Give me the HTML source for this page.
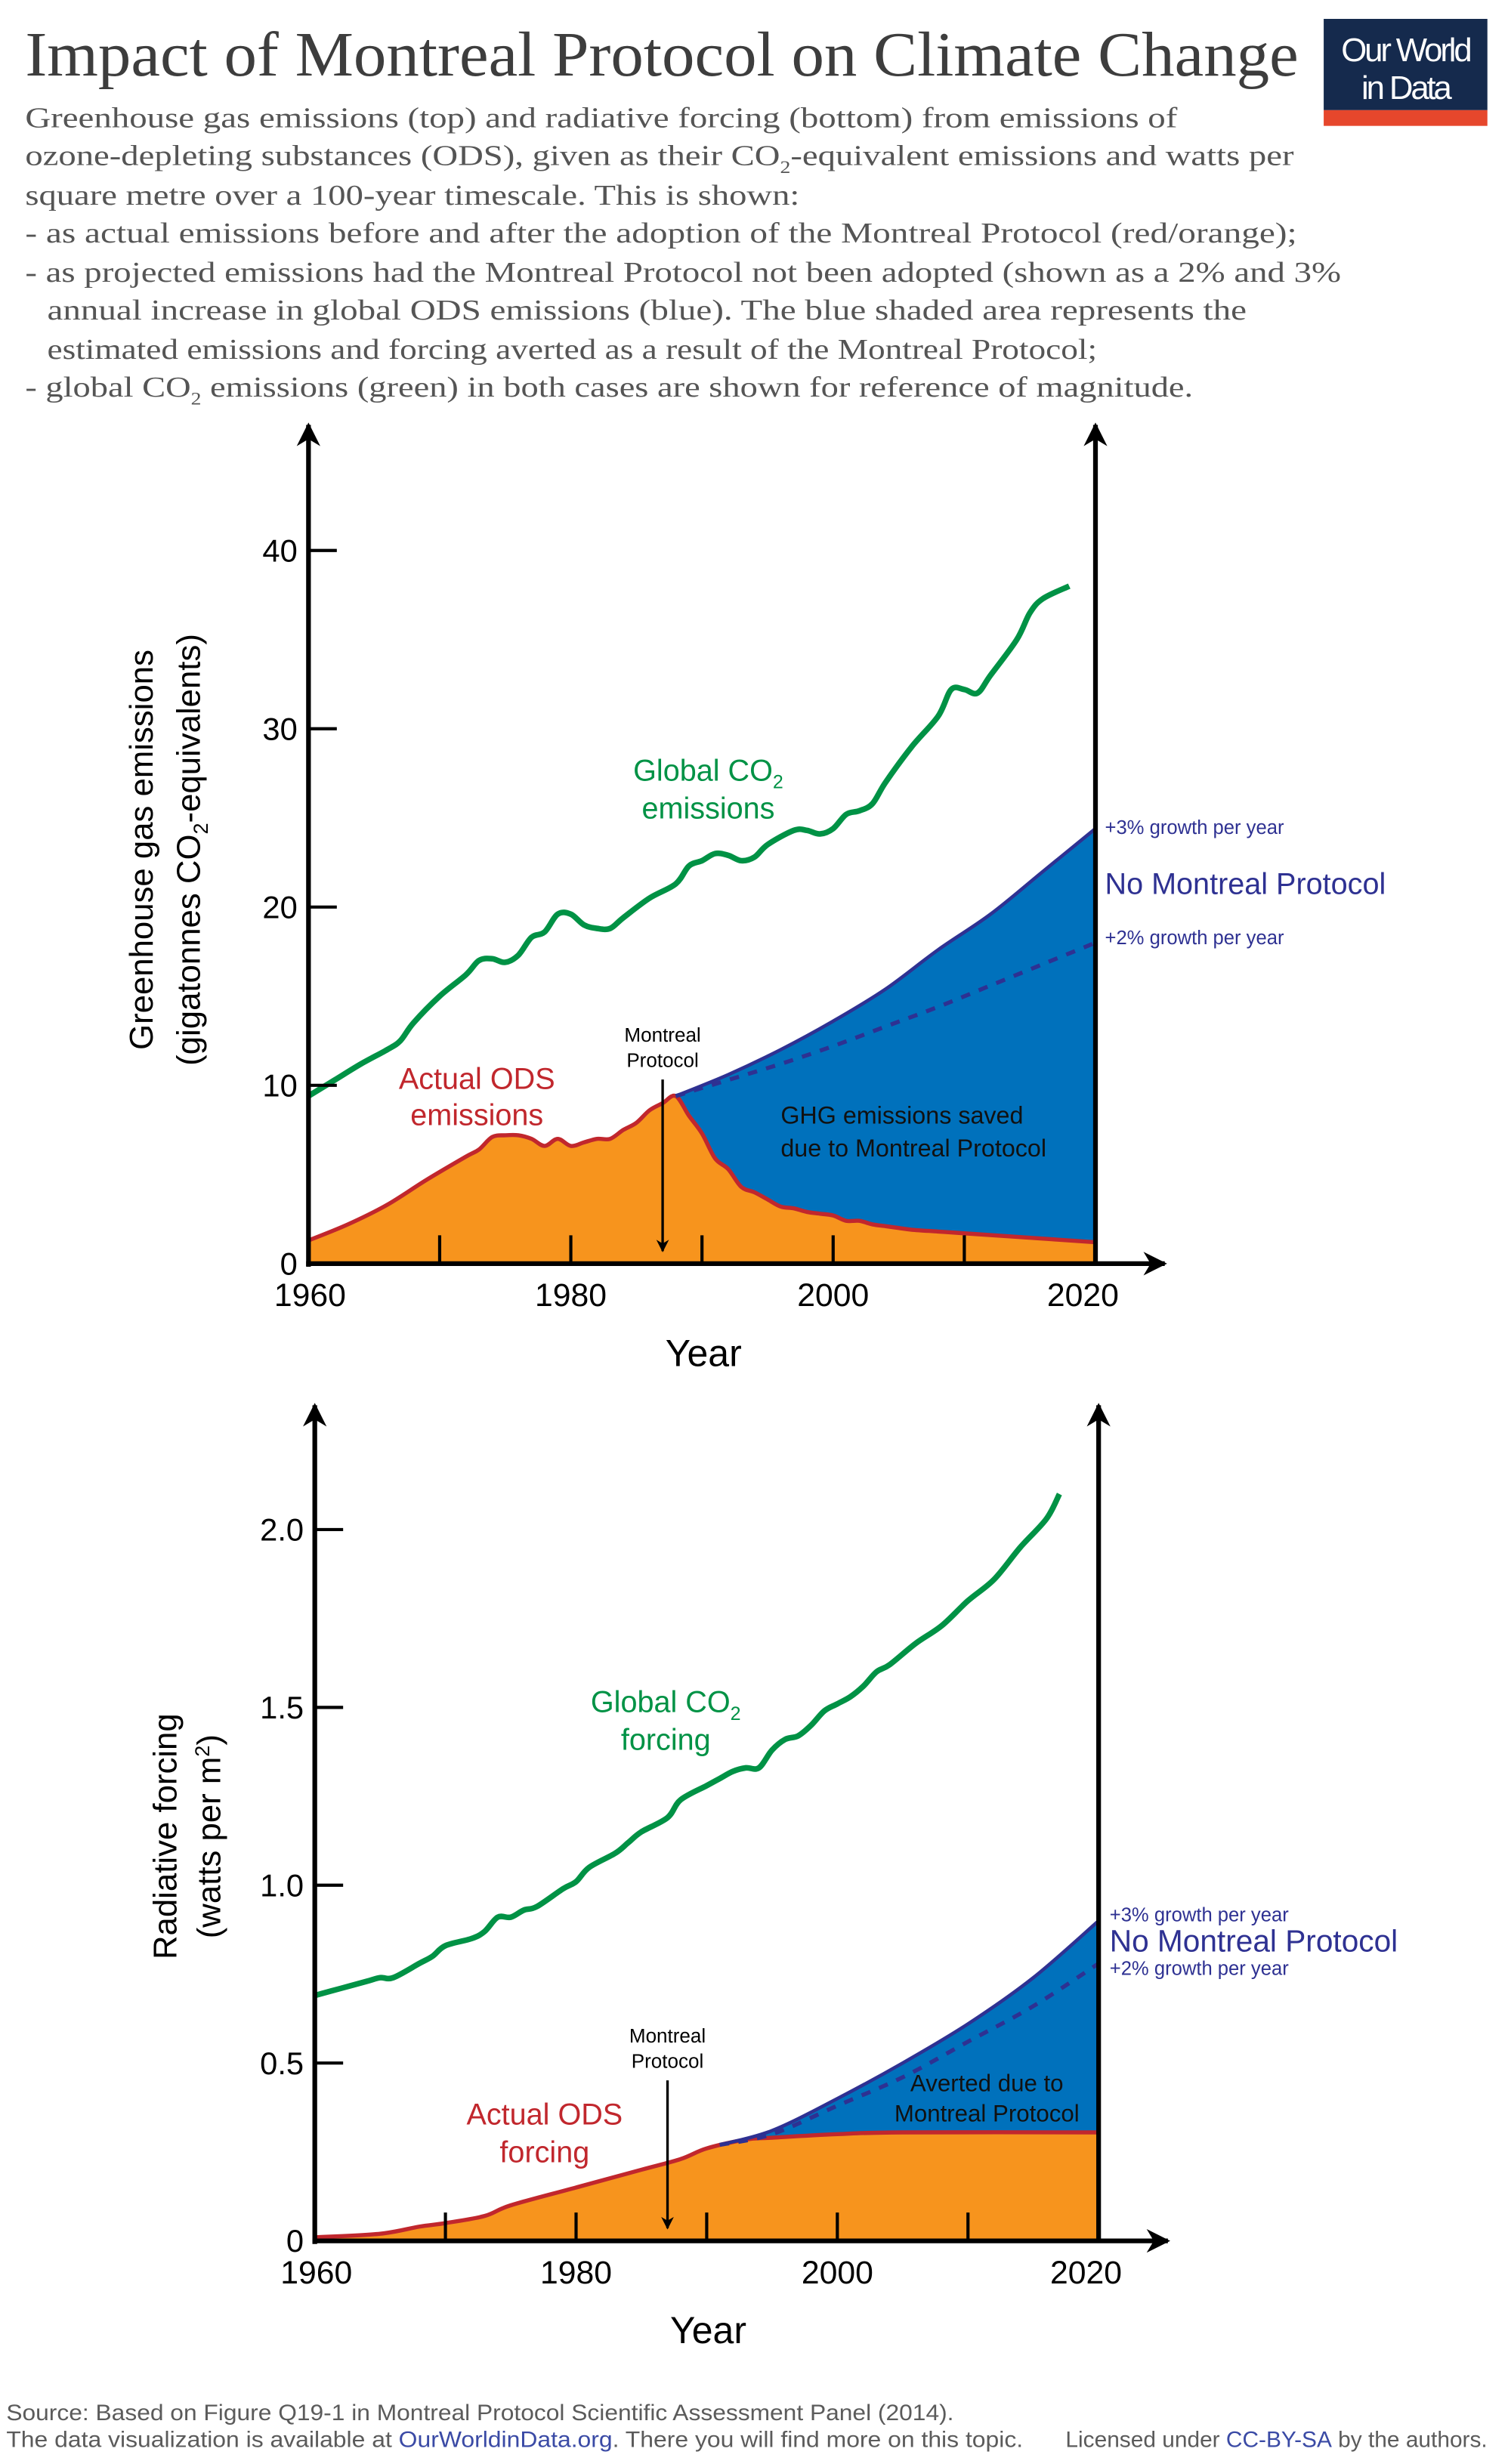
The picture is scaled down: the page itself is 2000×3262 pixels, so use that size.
<!DOCTYPE html>
<html><head><meta charset="utf-8"><title>Impact of Montreal Protocol on Climate Change</title>
<style>
html,body{margin:0;padding:0;background:#fff;}
svg{display:block;}
.sans{font-family:"Liberation Sans",sans-serif;}
.serif{font-family:"Liberation Serif",serif;}
</style></head>
<body>
<svg id="chart" width="2000" height="3262" viewBox="0 0 960 1565.8" preserveAspectRatio="none" xmlns="http://www.w3.org/2000/svg">
<defs>
<marker id="arr" viewBox="0 0 10 10" refX="9" refY="5" markerWidth="5" markerHeight="5" orient="auto"><path d="M0,0 L10,5 L0,10 L3,5 z" fill="#000"/></marker>
</defs>
<text x="16" y="48" class="serif" font-size="40" fill="#3d3d3d" textLength="809" lengthAdjust="spacingAndGlyphs">Impact of Montreal Protocol on Climate Change</text>
<g>
<rect x="841" y="12" width="104" height="58" fill="#152a4d"/>
<rect x="841" y="70" width="104" height="10" fill="#e6472c"/>
<text x="893" y="39" text-anchor="middle" class="sans" font-size="21" fill="#fff" letter-spacing="-1.5">Our World</text>
<text x="893" y="63" text-anchor="middle" class="sans" font-size="21" fill="#fff" letter-spacing="-1.5">in Data</text>
</g>
<g class="serif" font-size="18.5" fill="#555">
<text x="16" y="81" textLength="732" lengthAdjust="spacingAndGlyphs">Greenhouse gas emissions (top) and radiative forcing (bottom) from emissions of</text>
<text x="16" y="105" textLength="806" lengthAdjust="spacingAndGlyphs">ozone-depleting substances (ODS), given as their CO<tspan font-size="11" dy="5">2</tspan><tspan dy="-5">-equivalent emissions and watts per</tspan></text>
<text x="16" y="130" textLength="492" lengthAdjust="spacingAndGlyphs">square metre over a 100-year timescale. This is shown:</text>
<text x="16" y="154" textLength="808" lengthAdjust="spacingAndGlyphs">- as actual emissions before and after the adoption of the Montreal Protocol (red/orange);</text>
<text x="16" y="179" textLength="836" lengthAdjust="spacingAndGlyphs">- as projected emissions had the Montreal Protocol not been adopted (shown as a 2% and 3%</text>
<text x="30" y="203" textLength="762" lengthAdjust="spacingAndGlyphs">annual increase in global ODS emissions (blue). The blue shaded area represents the</text>
<text x="30" y="228" textLength="667" lengthAdjust="spacingAndGlyphs">estimated emissions and forcing averted as a result of the Montreal Protocol;</text>
<text x="16" y="252" textLength="742" lengthAdjust="spacingAndGlyphs">- global CO<tspan font-size="11" dy="5">2</tspan><tspan dy="-5"> emissions (green) in both cases are shown for reference of magnitude.</tspan></text>
</g>
<g id="topPanel"></g>
<g id="botPanel"></g>
<g class="sans" font-size="14" fill="#5b5b5b">
<text x="4" y="1538" textLength="602" lengthAdjust="spacingAndGlyphs">Source: Based on Figure Q19-1 in Montreal Protocol Scientific Assessment Panel (2014).</text>
<text x="4" y="1555" textLength="646" lengthAdjust="spacingAndGlyphs">The data visualization is available at <tspan fill="#3a4aa5">OurWorldinData.org</tspan>. There you will find more on this topic.</text>
<text x="677" y="1555" textLength="268" lengthAdjust="spacingAndGlyphs">Licensed under <tspan fill="#3a4aa5">CC-BY-SA</tspan> by the authors.</text>
</g>
</svg>
<script>
// ---- Top panel data (emissions, GtCO2-eq) ----
const co2EmYears = [1960,1962,1964,1966,1967,1968,1970,1972,1973,1974,1975,1976,1977,1978,1979,1980,1981,1982,1983,1984,1986,1988,1989,1990,1991,1992,1993,1994,1995,1997,1998,1999,2000,2001,2002,2003,2004,2006,2008,2009,2010,2011,2012,2014,2015,2016,2018];
const co2EmValues = [9.4,10.3,11.2,12.0,12.5,13.5,15.0,16.2,17.0,17.1,16.9,17.3,18.3,18.6,19.6,19.6,19.0,18.8,18.8,19.4,20.5,21.3,22.3,22.6,23.0,22.9,22.6,22.8,23.5,24.3,24.3,24.1,24.4,25.2,25.4,25.8,27.0,29.0,30.7,32.2,32.2,32.0,33.0,35.0,36.5,37.3,38.0];
const odsEmYears = [1960,1963,1966,1969,1972,1973,1974,1975,1976,1977,1978,1979,1980,1981,1982,1983,1984,1985,1986,1987,1988,1989,1990,1991,1992,1993,1994,1995,1996,1997,1998,1999,2000,2001,2002,2003,2004,2005,2006,2008,2010,2014,2020];
const odsEmValues = [1.3,2.2,3.3,4.7,6.0,6.4,7.1,7.2,7.2,7.0,6.6,7.0,6.6,6.8,7.0,7.0,7.5,7.9,8.6,9.0,9.4,8.3,7.3,5.9,5.3,4.3,4.0,3.6,3.2,3.1,2.9,2.8,2.7,2.4,2.4,2.2,2.1,2.0,1.9,1.8,1.7,1.5,1.2];
const noMpEmYears = [1988,1992,1996,2000,2004,2008,2012,2016,2020];
const noMp3EmValues = [9.4,10.6,12.0,13.6,15.4,17.6,19.6,22.0,24.4];
const noMp2EmValues = [9.4,10.3,11.2,12.2,13.3,14.4,15.6,16.8,18.0];
const topYTicks = [0,10,20,30,40];
// ---- Bottom panel data (forcing, W/m2) ----
const co2FYears = [1960,1962,1964,1965,1966,1968,1969,1970,1972,1973,1974,1975,1976,1977,1979,1980,1981,1983,1984,1985,1987,1988,1990,1991,1992,1993,1994,1995,1996,1997,1998,1999,2000,2001,2002,2003,2004,2006,2008,2010,2012,2014,2016,2017];
const co2FValues = [0.69,0.71,0.73,0.74,0.74,0.78,0.80,0.83,0.85,0.87,0.91,0.91,0.93,0.94,0.99,1.01,1.05,1.09,1.12,1.15,1.19,1.24,1.28,1.30,1.32,1.33,1.33,1.38,1.41,1.42,1.45,1.49,1.51,1.53,1.56,1.60,1.62,1.68,1.73,1.80,1.86,1.95,2.03,2.10];
const odsFYears = [1960,1965,1968,1970,1973,1975,1980,1985,1988,1990,1993,1995,2000,2005,2020];
const odsFValues = [0.01,0.02,0.04,0.05,0.07,0.10,0.15,0.20,0.23,0.26,0.285,0.29,0.30,0.305,0.305];
const noMpFYears = [1991,1995,2000,2005,2010,2015,2020];
const noMp3FValues = [0.27,0.31,0.40,0.50,0.61,0.74,0.90];
const noMp2FValues = [0.27,0.30,0.38,0.46,0.56,0.66,0.78];
const botYTicks = [0,0.5,1.0,1.5,2.0];
const botYTickLabels = ["0","0.5","1.0","1.5","2.0"];
const xTickYears = [1960,1970,1980,1990,2000,2010,2020];
const xLabelYears = [1960,1980,2000,2020];

const NS = "http://www.w3.org/2000/svg";
function el(parent, tag, attrs, text){
  const e = document.createElementNS(NS, tag);
  for (const k in attrs) e.setAttribute(k, attrs[k]);
  if (text !== undefined) e.textContent = text;
  parent.appendChild(e);
  return e;
}
function smooth(pts){
  let d = "M" + pts[0][0].toFixed(2) + "," + pts[0][1].toFixed(2);
  for (let i=0;i<pts.length-1;i++){
    const p0 = pts[Math.max(0,i-1)], p1 = pts[i], p2 = pts[i+1], p3 = pts[Math.min(pts.length-1,i+2)];
    const c1x = p1[0]+(p2[0]-p0[0])/6, c1y = p1[1]+(p2[1]-p0[1])/6;
    const c2x = p2[0]-(p3[0]-p1[0])/6, c2y = p2[1]-(p3[1]-p1[1])/6;
    d += " C"+c1x.toFixed(2)+","+c1y.toFixed(2)+" "+c2x.toFixed(2)+","+c2y.toFixed(2)+" "+p2[0].toFixed(2)+","+p2[1].toFixed(2);
  }
  return d;
}

function panel(g, cfg){
  const X = yr => cfg.x0 + (yr-1960)*(cfg.x1-cfg.x0)/60;
  const Y = v => cfg.y0 - v*cfg.ppu;
  const pts = (ys, vs) => ys.map((yr,i)=>[X(yr),Y(vs[i])]);
  const base = cfg.y0;
  const p3 = pts(cfg.nYears, cfg.n3);
  const blue = el(g,"path",{d: smooth(p3)+" L"+X(2020)+","+base+" L"+X(cfg.nYears[0])+","+base+" Z", fill:"#0071bc"});
  
  
  const po = pts(cfg.oYears, cfg.oVals);
  const orange = el(g,"path",{d: smooth(po)+" L"+X(2020)+","+base+" L"+X(1960)+","+base+" Z", fill:"#f7941d"});
  
  
  const oline = el(g,"path",{d: smooth(po), fill:"none", stroke:"#c1272d", "stroke-width":2.6});
  
  
  const l3 = el(g,"path",{d: smooth(p3), fill:"none", stroke:"#2e3192", "stroke-width":2.2});
  
  
  const l2 = el(g,"path",{d: smooth(pts(cfg.nYears, cfg.n2)), fill:"none", stroke:"#2e3192", "stroke-width":2.6, "stroke-dasharray":"6,6"});
  
  
  const gl = el(g,"path",{d: smooth(pts(cfg.cYears, cfg.cVals)), fill:"none", stroke:"#009245", "stroke-width":3.6});
  
  
  const ya = el(g,"line",{x1:X(1960),y1:base+2,x2:X(1960),y2:cfg.top,stroke:"#000","stroke-width":3,"marker-end":"url(#arr)"});
  
  
  const ya2 = el(g,"line",{x1:X(2020),y1:base,x2:X(2020),y2:cfg.top,stroke:"#000","stroke-width":3,"marker-end":"url(#arr)"});
  
  
  const xa = el(g,"line",{x1:X(1960)-1.5,y1:base,x2:X(2020)+44,y2:base,stroke:"#000","stroke-width":3,"marker-end":"url(#arr)"});
  
  
  xTickYears.slice(1,-1).forEach(yr=>{
    const t = el(g,"line",{x1:X(yr),y1:base,x2:X(yr),y2:base-18,stroke:"#000","stroke-width":2});
    
    
  });
  xLabelYears.forEach(yr=>{
    const t = el(g,"text",{x:X(yr)+(yr===2020?-8:(yr===1960?1:0)),y:base+27,"text-anchor":"middle","font-size":20.5,class:"sans"}, String(yr));
    
    
  });
  cfg.ticks.forEach((v,i)=>{
    if (v>0){
      const t = el(g,"line",{x1:X(1960),y1:Y(v),x2:X(1960)+18,y2:Y(v),stroke:"#000","stroke-width":2});
      
      
    }
    const lb = el(g,"text",{x:X(1960)-7,y:Y(v)+7,"text-anchor":"end","font-size":20,class:"sans"}, cfg.tickLabels[i]);
    
    
  });
  const xt = el(g,"text",{x:cfg.yearX,y:base+65,"text-anchor":"middle","font-size":24,class:"sans"},"Year");
  
  
  const ma = el(g,"line",{x1:X(1987),y1:cfg.arrowTop,x2:X(1987),y2:base-8,stroke:"#000","stroke-width":1.6,"marker-end":"url(#arr)"});
  
  
  const m1 = el(g,"text",{x:X(1987),y:cfg.arrowTop-24,"text-anchor":"middle","font-size":12.5,class:"sans"},"Montreal");
  
  
  const m2 = el(g,"text",{x:X(1987),y:cfg.arrowTop-8,"text-anchor":"middle","font-size":12.5,class:"sans"},"Protocol");
  
  
}

const topG = document.getElementById('topPanel');
panel(topG,{x0:196,x1:696,y0:803,ppu:11.33,top:270,cYears:co2EmYears,cVals:co2EmValues,oYears:odsEmYears,oVals:odsEmValues,nYears:noMpEmYears,n3:noMp3EmValues,n2:noMp2EmValues,ticks:topYTicks,tickLabels:topYTicks.map(String),yearX:447,arrowTop:686});
const botG = document.getElementById('botPanel');
panel(botG,{x0:200,x1:698,y0:1424,ppu:226,top:893,cYears:co2FYears,cVals:co2FValues,oYears:odsFYears,oVals:odsFValues,nYears:noMpFYears,n3:noMp3FValues,n2:noMp2FValues,ticks:botYTicks,tickLabels:botYTickLabels,yearX:450,arrowTop:1322});

function label(parent,x,y,txt,size,color,anchor,name){
  const t = el(parent,"text",{x:x,y:y,"font-size":size,fill:color,"text-anchor":anchor||"middle",class:"sans"});
  t.innerHTML = txt;
  
  
  return t;
}
label(topG,450,496,'Global CO<tspan font-size="12" dy="5">2</tspan>',19,"#009245","middle","global-co2-label");
label(topG,450,520,'emissions',19,"#009245","middle","global-co2-label");
label(topG,303,692,'Actual ODS',19,"#c1272d","middle","actual-ods-label");
label(topG,303,715,'emissions',19,"#c1272d","middle","actual-ods-label");
label(topG,496,714,'GHG emissions saved',15.5,"#111","start","averted-label");
label(topG,496,735,'due to Montreal Protocol',15.5,"#111","start","averted-label");
label(topG,702,530,'+3% growth per year',12.3,"#2e3192","start","growth-3pct-label");
label(topG,702,568,'No Montreal Protocol',19,"#2e3192","start","no-montreal-protocol-label");
label(topG,702,600,'+2% growth per year',12.3,"#2e3192","start","growth-2pct-label");
const yt1 = el(topG,"text",{transform:"translate(97,540) rotate(-90)","text-anchor":"middle","font-size":21,class:"sans"});
yt1.innerHTML = 'Greenhouse gas emissions';


const yt2 = el(topG,"text",{transform:"translate(127,540) rotate(-90)","text-anchor":"middle","font-size":21,class:"sans"});
yt2.innerHTML = '(gigatonnes CO<tspan font-size="13" dy="5">2</tspan><tspan dy="-5">-equivalents)</tspan>';


label(botG,423,1088,'Global CO<tspan font-size="12" dy="5">2</tspan>',19,"#009245","middle","global-co2-label");
label(botG,423,1112,'forcing',19,"#009245","middle","global-co2-label");
label(botG,346,1350,'Actual ODS',19,"#c1272d","middle","actual-ods-label");
label(botG,346,1374,'forcing',19,"#c1272d","middle","actual-ods-label");
label(botG,627,1329,'Averted due to',15,"#111","middle","averted-label");
label(botG,627,1348,'Montreal Protocol',15,"#111","middle","averted-label");
label(botG,705,1221,'+3% growth per year',12.3,"#2e3192","start","growth-3pct-label");
label(botG,705,1240,'No Montreal Protocol',19.5,"#2e3192","start","no-montreal-protocol-label");
label(botG,705,1255,'+2% growth per year',12.3,"#2e3192","start","growth-2pct-label");
const yb1 = el(botG,"text",{transform:"translate(112,1167) rotate(-90)","text-anchor":"middle","font-size":21,class:"sans"});
yb1.innerHTML = 'Radiative forcing';


const yb2 = el(botG,"text",{transform:"translate(140,1167) rotate(-90)","text-anchor":"middle","font-size":21,class:"sans"});
yb2.innerHTML = '(watts per m<tspan font-size="13" dy="-7">2</tspan><tspan dy="7">)</tspan>';


</script>
</body></html>
